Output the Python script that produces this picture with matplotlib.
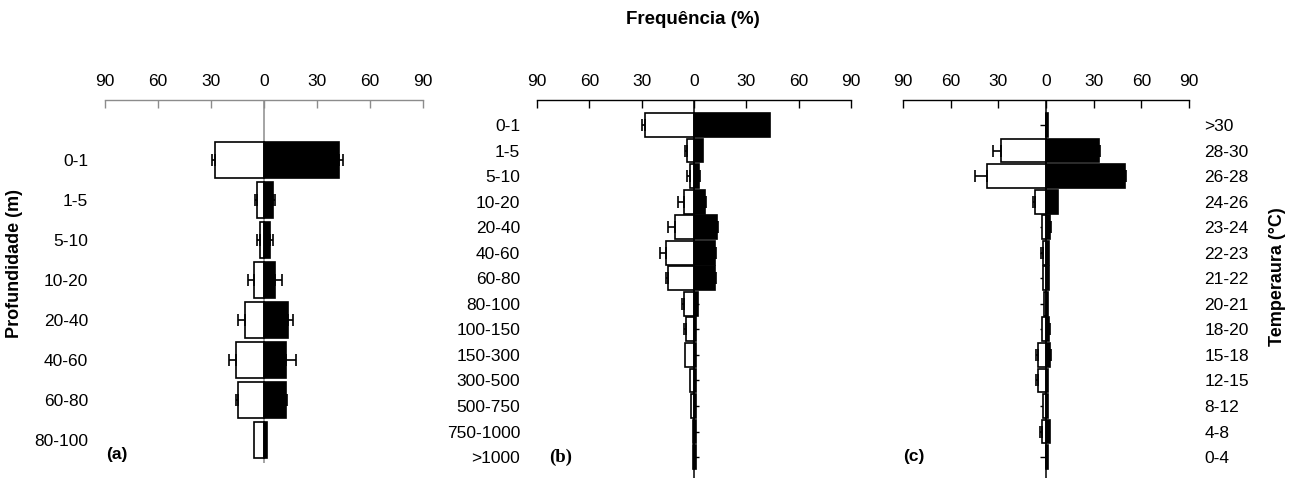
import numpy as np
import matplotlib.pyplot as plt
from matplotlib.path import Path

plt.rcParams['font.family'] = ['Liberation Sans', 'DejaVu Sans']

# (a) profundidade, 8 classes
prof_a = ['0-1', '1-5', '5-10', '10-20', '20-40', '40-60', '60-80', '80-100']
a_branco = [27.7, 4.2, 2.5, 5.7, 10.6, 15.7, 14.9, 5.7]
a_branco_err = [1.5, 1.0, 1.7, 3.2, 4.2, 4.0, 0.8, 0.0]
a_preto = [42.6, 5.3, 3.4, 6.2, 13.4, 12.5, 12.5, 1.5]
a_preto_err = [2.3, 1.0, 1.9, 3.8, 3.2, 5.7, 0.8, 0.0]

# (b) profundidade, 14 classes
prof_b = ['0-1', '1-5', '5-10', '10-20', '20-40', '40-60', '60-80', '80-100',
          '100-150', '150-300', '300-500', '500-750', '750-1000', '>1000']
b_branco = [28.1, 4.2, 2.5, 5.7, 10.7, 15.9, 14.9, 5.7, 4.8, 5.2, 2.5, 1.5, 0.8, 0.8]
b_branco_err = [1.7, 1.0, 1.5, 3.4, 4.2, 3.8, 1.0, 1.0, 0.8, 0, 0, 0, 0, 0]
b_preto = [43.4, 5.4, 2.9, 6.1, 13.0, 12.0, 12.0, 2.1, 1.1, 1.1, 1.0, 1.1, 1.3, 1.3]
b_preto_err = [0, 0, 0.8, 1.0, 0.6, 0.6, 0.4, 0, 0, 0, 0, 0, 0, 0]

# (c) temperatura
temp_c = ['>30', '28-30', '26-28', '24-26', '23-24', '22-23', '21-22', '20-21',
          '18-20', '15-18', '12-15', '8-12', '4-8', '0-4']
c_branco = [0.3, 28.1, 37.1, 7.1, 2.7, 2.1, 1.7, 1.5, 2.7, 5.2, 5.2, 1.7, 2.3, 0.3]
c_branco_err = [0, 5.5, 7.3, 1.3, 0, 1.0, 0, 0, 0, 1.0, 1.0, 0, 1.2, 0]
c_preto = [1.2, 33.1, 49.5, 7.8, 2.3, 2.1, 1.7, 1.3, 1.9, 2.3, 1.0, 1.0, 2.3, 1.0]
c_preto_err = [0, 0.6, 0.8, 0, 0.8, 0, 0, 0, 0.6, 0.8, 0, 0, 0, 0]

xticks = [-90, -60, -30, 0, 30, 60, 90]

W, H = 1301, 482
fig = plt.figure(figsize=(W / 100, H / 100), dpi=100)

FS = 12.5


def eixo(left, right, top, bottom):
    return fig.add_axes([left / W, 1 - bottom / H, (right - left) / W, (bottom - top) / H])


def painel(ax, labels, branco, branco_err, preto, preto_err, altura, ylim, cor_eixo, lado):
    y = np.arange(len(labels))
    branco = np.array(branco)
    preto = np.array(preto)
    ax.barh(y, -branco, altura, color='white', edgecolor='black', lw=1.2, zorder=2)
    ax.barh(y, preto, altura, color='black', edgecolor='black', lw=1.2, zorder=2)
    be = np.array(branco_err)
    pe = np.array(preto_err)
    m = be > 0
    ax.errorbar(-branco[m], y[m], xerr=[be[m], np.zeros(m.sum())], fmt='none',
                ecolor='black', elinewidth=1.2, capsize=4.5, capthick=1.2, zorder=3)
    m = pe > 0
    ax.errorbar(preto[m], y[m], xerr=[np.zeros(m.sum()), pe[m]], fmt='none',
                ecolor='black', elinewidth=1.2, capsize=4.5, capthick=1.2, zorder=3)
    ax.axvline(0, color=cor_eixo, lw=1.1, zorder=1)

    ax.set_xlim(-90, 90)
    ax.set_ylim(*ylim)
    ax.xaxis.tick_top()
    ax.set_xticks(xticks, [str(abs(v)) for v in xticks])
    ax.tick_params(axis='x', direction='in', length=6, width=1, color=cor_eixo,
                   labelsize=FS, pad=8)
    ax.set_yticks(y, labels)
    if lado == 'right':
        ax.yaxis.tick_right()
        ax.tick_params(axis='y', length=0, labelsize=FS, pad=11)
    else:
        ax.tick_params(axis='y', length=0, labelsize=FS, pad=12)
    for s in ['left', 'right', 'bottom']:
        ax.spines[s].set_visible(False)
    ax.spines['top'].set_color(cor_eixo)
    ax.spines['top'].set_linewidth(1)
    ax.set_facecolor('none')
    return y


ax_a = eixo(105, 423, 100, 463)
painel(ax_a, prof_a, a_branco, a_branco_err, a_preto, a_preto_err, 0.88,
       (7.575, -1.5), '#8c8c8c', 'left')

ax_b = eixo(537, 851, 100, 478)
yb = painel(ax_b, prof_b, b_branco, b_branco_err, b_preto, b_preto_err, 0.93,
            (13.82, -0.979), 'black', 'left')
ax_b.plot(np.zeros(len(yb)), yb, ls='none', marker=Path([(0, 0), (1, 0)]),
          ms=7, mec='black', mew=1, zorder=1)

ax_c = eixo(903, 1189, 100, 478)
yc = painel(ax_c, temp_c, c_branco, c_branco_err, c_preto, c_preto_err, 0.93,
            (13.82, -0.979), 'black', 'right')
ax_c.plot(np.zeros(len(yc)), yc, ls='none', marker=Path([(0, 0), (-1, 0)]),
          ms=8, mec='black', mew=1, zorder=1)

# textos
fig.text(693 / W, 1 - 20 / H, 'Frequência (%)', ha='center', va='center',
         fontsize=13.5, fontweight='bold')
fig.text(15 / W, 1 - 263 / H, 'Profundidade (m)', rotation=90, ha='center', va='center',
         fontsize=13, fontweight='bold')
fig.text(1278 / W, 1 - 277 / H, 'Temperaura (°C)', rotation=90, ha='center', va='center',
         fontsize=13, fontweight='bold')
fig.text(106 / W, 1 - 455 / H, '(a)', ha='left', va='center', fontsize=12.5, fontweight='bold')
fig.text(549 / W, 1 - 457 / H, '(b)', ha='left', va='center', fontsize=13.5, fontweight='bold',
         family=['Liberation Serif', 'DejaVu Serif'])
fig.text(903 / W, 1 - 457 / H, '(c)', ha='left', va='center', fontsize=12.5, fontweight='bold')

fig.savefig('out.png', dpi=100)
